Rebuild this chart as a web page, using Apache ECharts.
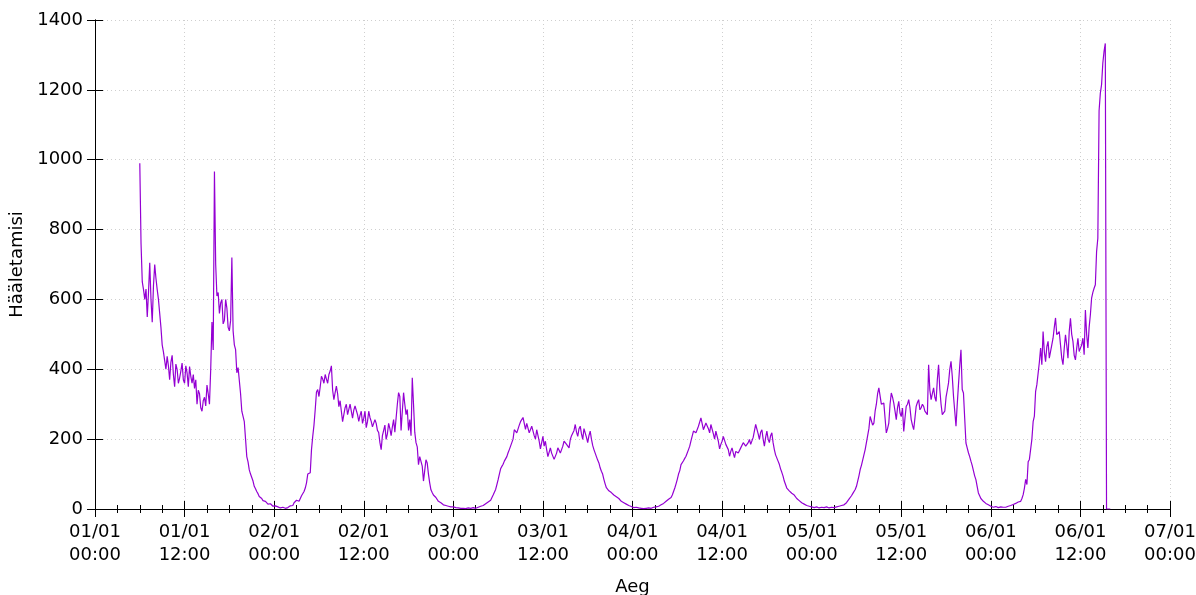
<!DOCTYPE html>
<html>
<head>
<meta charset="utf-8">
<title>Hääletamisi</title>
<script src="https://cdn.jsdelivr.net/npm/echarts@6/dist/echarts.min.js"></script>
<style>
    html, body { margin: 0; padding: 0; background: #fff; }
    #votes { width: 1196px; height: 595px; }
</style>
</head>
<body>
<div id="votes"></div>
<script>
// samples every 10 minutes, x in hours since 01/01 00:00
var stepHours = 1 / 6;
var dayStart = [6, 24, 48, 72, 96, 120];

// one row = one hour (6 samples)
var votesDay1 = [
    990, 760, 650, 628, 600, 630,
    550, 620, 705, 600, 535, 640,
    700, 660, 628, 600, 560, 520,
    470, 450, 425, 400, 437, 410,
    370, 420, 440, 385, 350, 415,
    400, 360, 375, 395, 418, 370,
    360, 410, 390, 350, 408, 380,
    360, 385, 345, 370, 300, 340,
    330, 290, 280, 310, 320, 295,
    355, 330, 300, 400, 535, 455,
    966, 700, 610, 620, 560, 590,
    600, 530, 540, 600, 575, 520,
    510, 540, 720, 510, 470, 456,
    390, 405, 400, 330, 280, 276,
    250, 200, 150, 135, 112, 100,
    95, 80, 65, 58, 50, 44,
    36, 33, 30, 24, 20, 22,
    18, 14, 12, 15, 10, 8
];
var votesDay2 = [
    7, 9, 4, 6, 6, 3,
    3, 5, 5, 2, 2, 4,
    6, 9, 12, 10, 18, 15,
    25, 20, 22, 30, 38, 42,
    50, 60, 75, 100, 95, 104,
    170, 208, 240, 285, 335, 342,
    322, 350, 380, 372, 360, 385,
    372, 360, 385, 395, 410, 340,
    313, 333, 352, 330, 293, 310,
    280, 250, 247, 290, 300, 270,
    275, 300, 300, 260, 283, 295,
    300, 270, 251, 268, 280, 245,
    260, 280, 233, 250, 280, 262,
    251, 235, 230, 256, 245, 225,
    219, 190, 170, 210, 225, 240,
    199, 215, 245, 230, 210, 235,
    256, 220, 215, 300, 333, 322,
    225, 280, 333, 300, 270, 285,
    225, 256, 210, 376, 300, 220,
    190, 178, 127, 150, 146, 123,
    80, 110, 141, 132, 100, 75,
    55, 47, 40, 38, 33, 30,
    22, 19, 18, 15, 12, 13,
    10, 9, 8, 7, 6, 5
];
var votesDay3 = [
    6, 4, 4, 2, 3, 2,
    2, 1, 2, 3, 1, 2,
    3, 1, 2, 2, 4, 2,
    2, 3, 5, 4, 8, 6,
    10, 8, 15, 12, 20, 18,
    25, 30, 40, 48, 56, 70,
    84, 100, 115, 122, 128, 137,
    140, 150, 161, 170, 180, 190,
    200, 227, 230, 218, 218, 240,
    250, 246, 262, 265, 228, 245,
    250, 218, 220, 237, 237, 210,
    200, 227, 226, 194, 172, 190,
    208, 180, 194, 170, 150, 147,
    175, 160, 158, 142, 142, 160,
    175, 168, 160, 161, 180, 194,
    194, 185, 182, 175, 199, 210,
    205, 225, 242, 220, 208, 230,
    237, 215, 199, 230, 227, 205,
    190, 210, 223, 200, 182, 170,
    160, 150, 140, 132, 118, 108,
    100, 85, 72, 61, 58, 52,
    50, 47, 45, 40, 38, 35,
    33, 30, 27, 22, 20, 18,
    16, 14, 12, 10, 9, 7
];
var votesDay4 = [
    6, 4, 4, 5, 5, 3,
    3, 2, 2, 1, 3, 2,
    2, 3, 4, 2, 3, 5,
    5, 6, 7, 8, 10, 12,
    14, 16, 18, 22, 25, 28,
    30, 33, 40, 50, 60, 72,
    85, 100, 110, 127, 128, 138,
    145, 151, 155, 170, 180, 195,
    200, 223, 222, 218, 218, 237,
    240, 261, 258, 227, 227, 246,
    246, 230, 218, 242, 240, 215,
    200, 223, 223, 194, 172, 185,
    194, 208, 208, 185, 190, 170,
    151, 165, 175, 160, 147, 165,
    170, 160, 156, 175, 172, 190,
    190, 180, 175, 190, 199, 185,
    190, 205, 205, 242, 242, 215,
    199, 220, 227, 200, 180, 205,
    223, 200, 190, 210, 218, 190,
    170, 155, 150, 137, 128, 115,
    105, 94, 80, 70, 60, 55,
    52, 48, 45, 42, 40, 35,
    30, 26, 24, 20, 18, 15,
    14, 12, 10, 9, 8, 6
];
var votesDay5 = [
    6, 5, 4, 7, 6, 4,
    3, 6, 5, 3, 4, 6,
    6, 4, 3, 5, 5, 3,
    4, 5, 6, 7, 8, 9,
    10, 12, 12, 15, 18, 22,
    28, 32, 38, 44, 48, 56,
    65, 80, 95, 113, 125, 140,
    155, 170, 190, 210, 230, 265,
    262, 240, 246, 280, 300, 330,
    347, 351, 300, 299, 303, 260,
    218, 230, 246, 300, 332, 320,
    303, 280, 256, 290, 308, 275,
    265, 289, 222, 260, 294, 300,
    313, 290, 256, 240, 227, 260,
    294, 305, 313, 284, 290, 300,
    294, 280, 275, 270, 413, 340,
    313, 330, 347, 320, 308, 370,
    413, 342, 300, 270, 265, 280,
    320, 340, 361, 400, 423, 380,
    323, 280, 237, 300, 356, 410,
    456, 342, 332, 260, 189, 175,
    161, 150, 137, 125, 110, 95,
    84, 65, 46, 38, 30, 26,
    22, 18, 16, 14, 12, 10
];
var votesDay6 = [
    8, 6, 5, 8, 7, 5,
    4, 6, 6, 4, 5, 6,
    5, 7, 8, 9, 10, 12,
    13, 14, 16, 18, 20, 21,
    22, 30, 41, 60, 85, 70,
    135, 142, 140, 200, 250, 266,
    337, 356, 356, 420, 461, 413,
    508, 450, 422, 465, 480, 432,
    432, 470, 489, 520, 547, 499,
    499, 508, 470, 432, 413, 460,
    499, 470, 432, 508, 546, 500,
    480, 440, 427, 460, 489, 451,
    451, 470, 489, 442, 570, 500,
    461, 520, 556, 604, 620, 632,
    642, 737, 775, 1140, 1190, 1215,
    1276, 1310, 1333, 0, 0, 0,
    0
];

var yTicks = [0, 200, 400, 600, 800, 1000, 1200, 1400];

// kokku paarideks [tund, väärtus]
var days = [votesDay1, votesDay2, votesDay3, votesDay4, votesDay5, votesDay6];
var seriesData = [];
for (var d = 0; d < days.length; d++) {
    for (var i = 0; i < days[d].length; i++) {
        seriesData.push([dayStart[d] + i * stepHours, days[d][i]]);
    }
}

function pad(n) {
    return (n < 10 ? '0' : '') + n;
}

var font = 'DejaVu Sans';
var fontSize = 18;
var gridLine = {
    show: true,
    lineStyle: {color: '#cfcfcf', width: 1, type: [1, 3]}
};
var borderLine = {show: true, lineStyle: {color: '#000', width: 1}};
var tickIn = {show: true, inside: true, length: 8, lineStyle: {color: '#000'}};
var minorIn = {show: true, splitNumber: 4, length: 4, lineStyle: {color: '#000'}};

var chart = echarts.init(document.getElementById('votes'), null, {renderer: 'canvas'});
chart.setOption({
    animation: false,
    backgroundColor: '#fff',
    grid: {left: 95, right: 26, top: 20, bottom: 86, outerBoundsMode: 'none'},
    xAxis: [
        {
            type: 'value',
            min: 0,
            max: 144,
            interval: 12,
            position: 'bottom',
            name: 'Aeg',
            nameLocation: 'middle',
            nameGap: 69,
            nameTextStyle: {fontFamily: font, fontSize: fontSize, color: '#000'},
            axisLine: borderLine,
            axisTick: tickIn,
            minorTick: minorIn,
            axisLabel: {
                fontFamily: font,
                fontSize: fontSize,
                color: '#000',
                lineHeight: 23,
                margin: 12,
                formatter: function (h) {
                    return pad(Math.floor(h / 24) + 1) + '/01\n' + pad(h % 24) + ':00';
                }
            },
            splitLine: gridLine
        },
        {
            // peegeltelg üleval
            type: 'value',
            min: 0,
            max: 144,
            interval: 12,
            position: 'top',
            axisLine: borderLine,
            axisTick: tickIn,
            minorTick: minorIn,
            axisLabel: {show: false},
            splitLine: {show: false}
        }
    ],
    yAxis: [
        {
            type: 'value',
            min: yTicks[0],
            max: yTicks[yTicks.length - 1],
            interval: 200,
            position: 'left',
            name: 'Hääletamisi',
            nameLocation: 'middle',
            nameRotate: 90,
            nameGap: 63,
            nameTextStyle: {fontFamily: font, fontSize: fontSize, color: '#000'},
            axisLine: borderLine,
            axisTick: tickIn,
            axisLabel: {
                fontFamily: font,
                fontSize: fontSize,
                color: '#000',
                margin: 12,
                formatter: function (v) {
                    return String(v);
                }
            },
            splitLine: gridLine
        },
        {
            type: 'value',
            min: yTicks[0],
            max: yTicks[yTicks.length - 1],
            interval: 200,
            position: 'right',
            axisLine: borderLine,
            axisTick: tickIn,
            axisLabel: {show: false},
            splitLine: {show: false}
        }
    ],
    series: [
        {
            name: 'Hääletamisi',
            type: 'line',
            xAxisIndex: 0,
            yAxisIndex: 0,
            data: seriesData,
            showSymbol: false,
            symbol: 'none',
            lineStyle: {color: '#9400d3', width: 1.2},
            z: 3
        }
    ]
});

window.onresize = function () {
    chart.resize();
};
</script>
</body>
</html>
